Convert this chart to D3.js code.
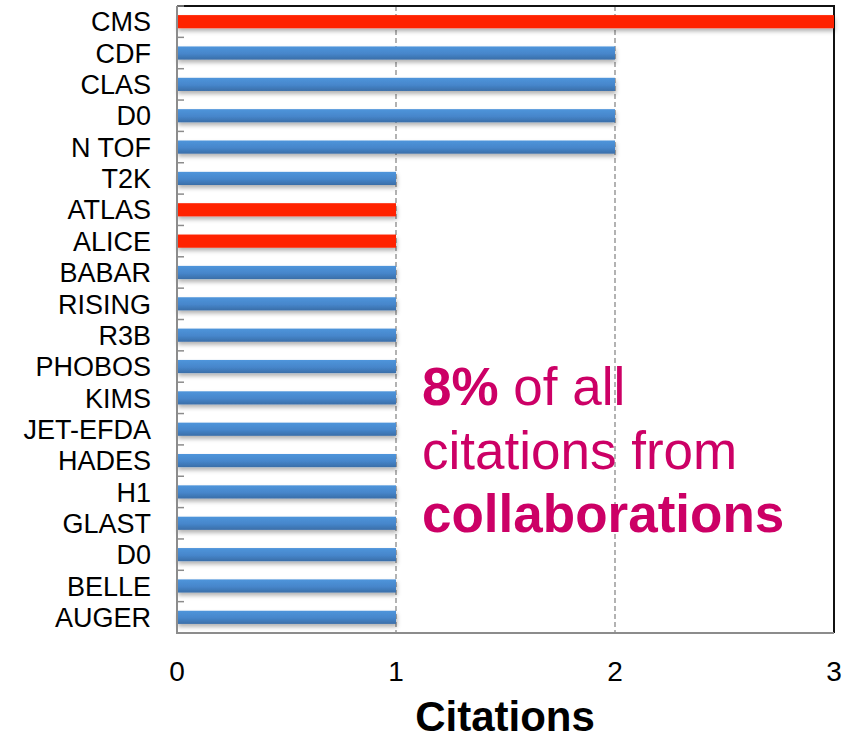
<!DOCTYPE html>
<html><head><meta charset="utf-8">
<script src="https://cdn.jsdelivr.net/npm/d3@7"></script>
<style>body{margin:0;background:#fff}svg{display:block}</style>
</head><body>
<svg id="c" width="853" height="741"></svg>
<script>
const categories = ["CMS","CDF","CLAS","D0","N TOF","T2K","ATLAS","ALICE","BABAR","RISING","R3B","PHOBOS","KIMS","JET-EFDA","HADES","H1","GLAST","D0 ","BELLE","AUGER"];
const citations = [3,2,2,2,2,1,1,1,1,1,1,1,1,1,1,1,1,1,1,1];
const isLHC = [true,false,false,false,false,false,true,true,false,false,false,false,false,false,false,false,false,false,false,false];
const xTicks = [0,1,2,3];
const axisTitle = "Citations";

const svg = d3.select("#c");
const L=177,R=834,T=6,B=633;
const x = d3.scaleLinear().domain([0,3]).range([L,R]);
const y = d3.scaleBand().domain(categories.map((d,i)=>i)).range([T,B]).paddingInner(0.58).paddingOuter(0.29);

const defs = svg.append("defs");
const g = defs.append("linearGradient").attr("id","blue").attr("x1",0).attr("y1",0).attr("x2",0).attr("y2",1);
g.append("stop").attr("offset","0%").attr("stop-color","#4f95db");
g.append("stop").attr("offset","55%").attr("stop-color","#4686cb");
g.append("stop").attr("offset","100%").attr("stop-color","#3a6ea8");
const f = defs.append("filter").attr("id","sh").attr("x","-5%").attr("y","-50%").attr("width","110%").attr("height","250%");
f.append("feDropShadow").attr("dx",1).attr("dy",3).attr("stdDeviation",2).attr("flood-color","#000").attr("flood-opacity",0.3);

// grid lines
svg.append("g").selectAll("line").data(xTicks.filter(t=>t>0&&t<3)).join("line")
  .attr("x1",d=>x(d)).attr("x2",d=>x(d)).attr("y1",T).attr("y2",B)
  .attr("stroke","#8a8a8a").attr("stroke-width",1.3).attr("stroke-dasharray","5,3");

// top & right border
svg.append("path").attr("d",`M${L},${T}H${R}V${B}`).attr("fill","none").attr("stroke","#111").attr("stroke-width",2);

// bars
svg.append("g").selectAll("rect").data(categories).join("rect")
  .attr("x",x(0)).attr("y",(d,i)=>y(i)).attr("height",y.bandwidth())
  .attr("width",(d,i)=>x(citations[i])-x(0))
  .attr("fill",(d,i)=>isLHC[i]?"#ff2200":"url(#blue)")
  .attr("filter","url(#sh)");

// left axis + bottom axis
svg.append("path").attr("d",`M${L},${T}V${B}H${R}`).attr("fill","none").attr("stroke","#8c8c8c").attr("stroke-width",2);
const bounds = d3.range(categories.length+1).map(i=>T+i*y.step());
svg.append("g").selectAll("line").data(bounds).join("line")
  .attr("x1",L).attr("x2",L+7).attr("y1",d=>d).attr("y2",d=>d)
  .attr("stroke","#8c8c8c").attr("stroke-width",1.5);

// category labels
svg.append("g").selectAll("text").data(categories).join("text")
  .attr("x",151).attr("y",(d,i)=>y(i)+y.bandwidth()/2).attr("dy","0.36em")
  .attr("text-anchor","end").attr("font-family","Liberation Sans, Arial, sans-serif")
  .attr("font-size",27).attr("fill","#000").text(d=>d.trim());

// x tick labels
svg.append("g").selectAll("text").data(xTicks).join("text")
  .attr("x",d=>x(d)).attr("y",681).attr("text-anchor","middle")
  .attr("font-family","Liberation Sans, Arial, sans-serif").attr("font-size",28).text(d=>d);

svg.append("text").attr("x",505).attr("y",731).attr("text-anchor","middle")
  .attr("font-family","Liberation Sans, Arial, sans-serif").attr("font-weight","bold")
  .attr("font-size",42).text(axisTitle);

// annotation
const ann = svg.append("text").attr("font-family","Liberation Sans, Arial, sans-serif").attr("font-size",53).attr("fill","#cc0066");
const l1 = ann.append("tspan").attr("x",422).attr("y",405);
l1.append("tspan").attr("font-weight","bold").text("8%");
l1.append("tspan").text(" of all");
ann.append("tspan").attr("x",422).attr("y",469).attr("font-weight","normal").text("citations from");
ann.append("tspan").attr("x",422).attr("y",532).attr("font-weight","bold").text("collaborations");
</script>
</body></html>
